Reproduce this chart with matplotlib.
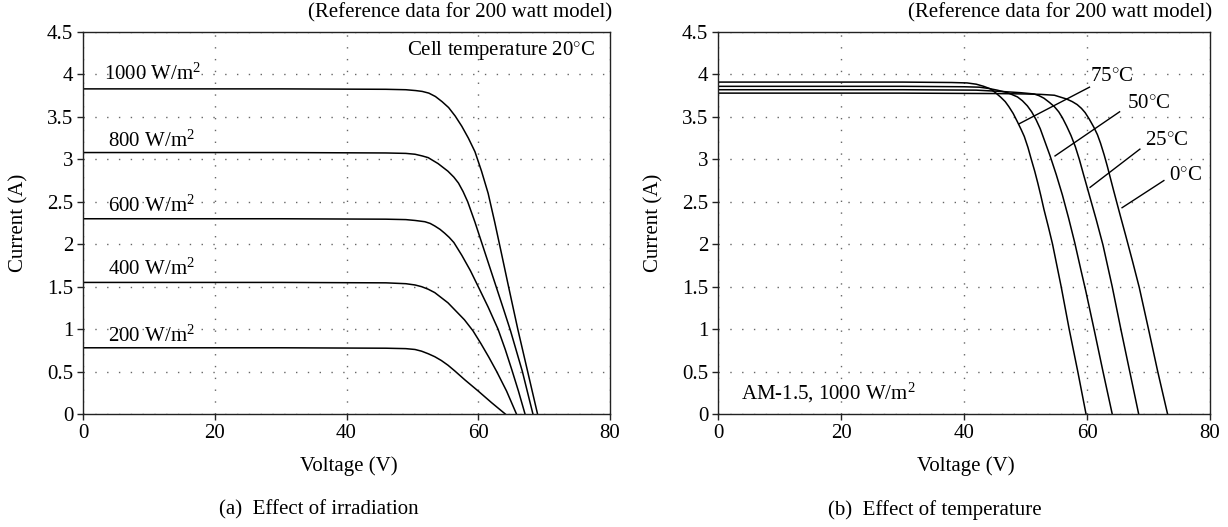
import matplotlib
matplotlib.use("Agg")
import matplotlib.pyplot as plt

plt.rcParams['font.family'] = ['Liberation Serif', 'DejaVu Serif']
plt.rcParams['mathtext.fontset'] = 'custom'
plt.rcParams['mathtext.rm'] = 'Liberation Serif'
plt.rcParams['mathtext.it'] = 'Liberation Serif:italic'

# ---------------- data: (a) effect of irradiation ----------------
irr_labels = ["1000 W/m$^2$", "800 W/m$^2$", "600 W/m$^2$", "400 W/m$^2$", "200 W/m$^2$"]
v_1000 = [0, 30, 46, 49, 50.5, 51.5, 52.5, 53.5, 54.5, 55.5, 56.5, 57.5, 58.5, 59.5, 60.5, 61.5, 62.5, 63.5, 64.6, 66.0, 67.5, 69.0]
i_1000 = [3.83, 3.83, 3.825, 3.82, 3.81, 3.80, 3.78, 3.74, 3.68, 3.61, 3.51, 3.39, 3.25, 3.09, 2.86, 2.60, 2.26, 1.90, 1.50, 1.00, 0.50, 0.0]
v_800 = [0, 30, 46, 49, 50.4, 51.5, 52.4, 53.9, 55.4, 56.3, 57.0, 57.7, 58.4, 59.5, 60.6, 61.7, 62.8, 63.9, 64.9, 65.8, 66.7, 67.5, 68.3]
i_800 = [3.08, 3.08, 3.075, 3.07, 3.06, 3.04, 3.02, 2.95, 2.86, 2.79, 2.72, 2.62, 2.50, 2.26, 2.00, 1.74, 1.48, 1.22, 0.98, 0.74, 0.50, 0.25, 0.0]
v_600 = [0, 30, 46, 49, 50.4, 51.9, 52.7, 53.4, 54.2, 54.9, 55.6, 56.3, 57.5, 58.8, 60.0, 61.5, 63.0, 64.1, 65.1, 66.1, 67.1]
i_600 = [2.30, 2.30, 2.295, 2.29, 2.28, 2.265, 2.245, 2.215, 2.175, 2.13, 2.08, 2.02, 1.87, 1.69, 1.50, 1.26, 1.00, 0.76, 0.52, 0.27, 0.0]
v_400 = [0, 30, 46, 49, 50.4, 51.4, 52.4, 53.4, 54.4, 55.4, 56.4, 57.9, 59.2, 60.4, 61.6, 62.8, 64.3, 65.8]
i_400 = [1.55, 1.55, 1.545, 1.535, 1.52, 1.50, 1.47, 1.43, 1.37, 1.31, 1.23, 1.11, 0.98, 0.83, 0.67, 0.50, 0.27, 0.0]
v_200 = [0, 30, 46, 49, 50.4, 51.4, 52.4, 53.4, 54.4, 55.4, 56.4, 57.2, 58.0, 60.0, 62.0, 64.1]
i_200 = [0.78, 0.78, 0.775, 0.77, 0.76, 0.74, 0.71, 0.675, 0.63, 0.575, 0.51, 0.455, 0.40, 0.27, 0.135, 0.0]
irr_label_pos = [(3.2, 4.00), (3.8, 3.21), (3.8, 2.45), (3.8, 1.70), (3.8, 0.92)]

# ---------------- data: (b) effect of temperature ----------------
temp_labels = ["75$^{\\circ}$C", "50$^{\\circ}$C", "25$^{\\circ}$C", "0$^{\\circ}$C"]
v_75 = [0, 30, 38, 40.5, 42.0, 43.2, 44.3, 45.2, 46.0, 46.7, 47.3, 48.0, 48.7, 49.3, 49.8, 50.4, 50.9, 51.5, 52.0, 52.5, 53.0, 53.7, 54.4, 55.8, 57.1, 58.5, 59.84]
i_75 = [3.91, 3.91, 3.905, 3.90, 3.885, 3.86, 3.83, 3.78, 3.73, 3.68, 3.62, 3.54, 3.44, 3.35, 3.27, 3.14, 3.01, 2.86, 2.72, 2.57, 2.41, 2.21, 2.00, 1.50, 1.00, 0.50, 0.0]
v_50 = [0, 30, 40, 42.5, 44, 45.4, 47.1, 48.7, 49.5, 50.3, 51.0, 51.7, 52.4, 53.0, 54, 55, 56, 57, 58, 59, 59.8, 61.2, 62.6, 64.1]
i_50 = [3.86, 3.86, 3.855, 3.85, 3.835, 3.815, 3.785, 3.735, 3.69, 3.63, 3.56, 3.47, 3.36, 3.24, 3.04, 2.82, 2.58, 2.31, 2.02, 1.70, 1.45, 0.98, 0.50, 0.0]
v_25 = [0, 30, 42, 46, 49.2, 51.4, 52.2, 53.0, 53.9, 54.7, 55.4, 56.0, 56.7, 57.4, 58.1, 58.75, 59.4, 60.1, 60.8, 61.5, 62.6, 64.1, 65.5, 66.95, 68.4]
i_25 = [3.82, 3.82, 3.815, 3.80, 3.785, 3.77, 3.75, 3.72, 3.67, 3.62, 3.56, 3.49, 3.39, 3.28, 3.15, 3.00, 2.83, 2.65, 2.47, 2.29, 1.99, 1.50, 1.00, 0.50, 0.0]
v_0 = [0, 30, 45, 50, 52.5, 54.7, 56.7, 57.6, 58.4, 59.1, 59.7, 60.4, 61.1, 61.7, 62.2, 62.8, 63.3, 64.3, 65.4, 66.3, 67.4, 68.5, 70.0, 71.5, 73.1]
i_0 = [3.78, 3.78, 3.775, 3.77, 3.765, 3.755, 3.71, 3.68, 3.645, 3.60, 3.55, 3.47, 3.38, 3.29, 3.19, 3.05, 2.92, 2.64, 2.34, 2.10, 1.80, 1.49, 1.00, 0.50, 0.0]
temp_label_pos = [(60.5, 3.98), (66.5, 3.66), (69.4, 3.22), (73.4, 2.81)]
temp_leaders = [((60.4, 3.85), (49.0, 3.42)),
                ((65.3, 3.56), (54.8, 3.04)),
                ((68.6, 3.12), (60.5, 2.67)),
                ((72.5, 2.75), (65.7, 2.43))]

x_ticks = [0, 20, 40, 60, 80]
y_ticks = [0, 0.5, 1, 1.5, 2, 2.5, 3, 3.5, 4, 4.5]
y_ticklabels = ["0", "0.5", "1", "1.5", "2", "2.5", "3", "3.5", "4", "4.5"]

W, H = 1228, 527
fig = plt.figure(figsize=(W / 100, H / 100), dpi=100)

def px_axes(x0, x1, ytop, ybot):
    return fig.add_axes([x0 / W, 1 - ybot / H, (x1 - x0) / W, (ybot - ytop) / H])

axL = px_axes(83, 610, 32, 414)
axR = px_axes(718, 1210, 32, 414)

FS = 15

def style(ax):
    ax.set_xlim(0, 80)
    ax.set_ylim(0, 4.5)
    ax.set_xticks(x_ticks)
    ax.set_xticklabels([str(t) for t in x_ticks])
    ax.set_yticks(y_ticks)
    ax.set_yticklabels(y_ticklabels)
    ax.tick_params(direction='out', length=4, width=1, labelsize=FS, pad=3, color='#222222')
    ax.grid(True, linestyle=(0, (1, 7.5)), color='#666666', linewidth=1.0)
    for s in ax.spines.values():
        s.set_linewidth(1.0)
        s.set_color('#222222')
    ax.set_axisbelow(True)

style(axL)
style(axR)

lw = 1.1
for v, i in [(v_1000, i_1000), (v_800, i_800), (v_600, i_600), (v_400, i_400), (v_200, i_200)]:
    axL.plot(v, i, color='black', lw=lw, solid_joinstyle='round')
for lab, (x, y) in zip(irr_labels, irr_label_pos):
    axL.text(x, y, lab, fontsize=FS, va='center', ha='left', color='black')
axL.text(77.8, 4.28, "Cell temperature 20$^{\\circ}$C", fontsize=FS, ha='right', va='center')

for v, i in [(v_75, i_75), (v_50, i_50), (v_25, i_25), (v_0, i_0)]:
    axR.plot(v, i, color='black', lw=lw, solid_joinstyle='round')
for lab, (x, y), (p0, p1) in zip(temp_labels, temp_label_pos, temp_leaders):
    axR.text(x, y, lab, fontsize=FS, ha='left', va='center')
    axR.plot([p0[0], p1[0]], [p0[1], p1[1]], color='black', lw=1.0)
axR.text(3.8, 0.25, "AM-1.5, 1000 W/m$^2$", fontsize=FS, ha='left', va='center')

# axis labels and captions
for x0, x1, capx, cap in [(83, 610, 319, "(a)  Effect of irradiation"), (718, 1210, 935, "(b)  Effect of temperature")]:
    cx = (x0 + x1) / 2 / W
    fig.text(cx + 2 / W, 1 - 466 / H, "Voltage (V)", ha='center', va='center', fontsize=FS)
    fig.text(capx / W, 1 - 510 / H, cap, ha='center', va='center', fontsize=FS)
    fig.text(x1 / W + 0.002, 1 - 13 / H, "(Reference data for 200 watt model)", ha='right', va='center', fontsize=FS)

fig.text(19 / W, 1 - 223 / H, "Current (A)", rotation=90, ha='center', va='center', fontsize=FS)
fig.text(654 / W, 1 - 223 / H, "Current (A)", rotation=90, ha='center', va='center', fontsize=FS)

fig.savefig("out.png", dpi=100)
